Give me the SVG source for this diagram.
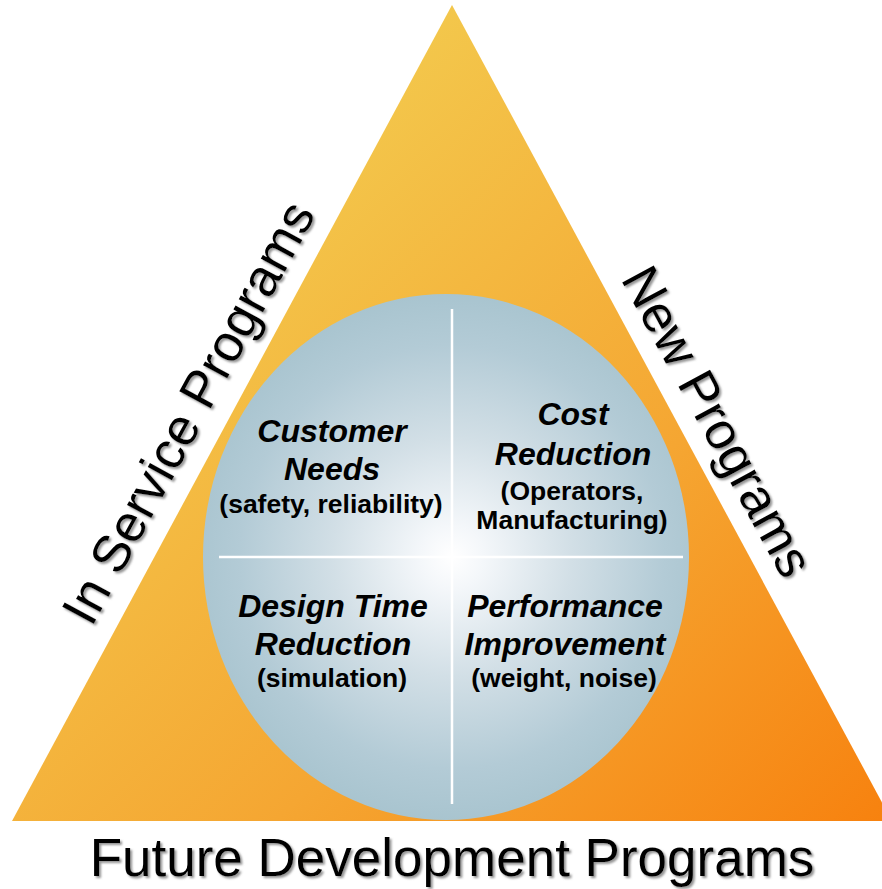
<svg xmlns="http://www.w3.org/2000/svg" width="882" height="889" viewBox="0 0 882 889">
  <defs>
    <linearGradient id="triGrad" gradientUnits="userSpaceOnUse" x1="250" y1="150" x2="880" y2="820">
      <stop offset="0" stop-color="#f3c94d"/>
      <stop offset="0.55" stop-color="#f5a632"/>
      <stop offset="1" stop-color="#f7820f"/>
    </linearGradient>
    <radialGradient id="circGrad" gradientUnits="userSpaceOnUse" cx="452" cy="557" r="265">
      <stop offset="0" stop-color="#ffffff"/>
      <stop offset="0.12" stop-color="#f4f7fa"/>
      <stop offset="0.45" stop-color="#d2dfe6"/>
      <stop offset="0.8" stop-color="#b3cbd6"/>
      <stop offset="1" stop-color="#a8c4cf"/>
    </radialGradient>
    <filter id="shadow" x="-10%" y="-10%" width="120%" height="120%">
      <feDropShadow dx="2" dy="2" stdDeviation="0.8" flood-color="#7a7a7a" flood-opacity="0.8"/>
    </filter>
  </defs>
  <style>
    .side { font-family: "Liberation Sans", Arial, sans-serif; font-size: 52px; fill: #000; }
    .bottom { font-family: "Liberation Sans", Arial, sans-serif; font-size: 53px; fill: #000; }
    .title { font-family: "Liberation Sans", Arial, sans-serif; font-size: 32px; font-weight: bold; font-style: italic; fill: #000; text-anchor: middle; }
    .sub { font-family: "Liberation Sans", Arial, sans-serif; font-size: 26.5px; font-weight: bold; fill: #000; text-anchor: middle; }
    .divider { stroke: #ffffff; stroke-width: 2.5; fill: none; }
  </style>

  <g id="triangle">
    <polygon points="452,5 12,821 892,821" fill="url(#triGrad)"/>
  </g>

  <g id="circle">
    <ellipse cx="446" cy="557" rx="243" ry="263" fill="url(#circGrad)"/>
  </g>

  <g id="connectors">
    <line class="divider" x1="452" y1="309" x2="452" y2="804"/>
    <line class="divider" x1="219" y1="557" x2="683" y2="557"/>
  </g>

  <g id="in-service" filter="url(#shadow)">
    <text class="side" text-anchor="middle" transform="translate(204,421) rotate(-61.5)">In Service Programs</text>
  </g>

  <g id="new-programs" filter="url(#shadow)">
    <text class="side" text-anchor="middle" transform="translate(702,430) rotate(61.6)">New Programs</text>
  </g>

  <g id="future" filter="url(#shadow)">
    <text class="bottom" x="452" y="876" text-anchor="middle">Future Development Programs</text>
  </g>

  <g id="customer-needs">
    <text class="title" x="332" y="442">Customer</text>
    <text class="title" x="332" y="480">Needs</text>
    <text class="sub" x="331" y="513">(safety, reliability)</text>
  </g>

  <g id="cost-reduction">
    <text class="title" x="573" y="425">Cost</text>
    <text class="title" x="573" y="465">Reduction</text>
    <text class="sub" x="572" y="500">(Operators,</text>
    <text class="sub" x="572" y="529">Manufacturing)</text>
  </g>

  <g id="design-time">
    <text class="title" x="333" y="617">Design Time</text>
    <text class="title" x="333" y="655">Reduction</text>
    <text class="sub" x="332" y="687">(simulation)</text>
  </g>

  <g id="performance">
    <text class="title" x="565" y="617">Performance</text>
    <text class="title" x="565" y="655">Improvement</text>
    <text class="sub" x="564" y="687">(weight, noise)</text>
  </g>
</svg>
